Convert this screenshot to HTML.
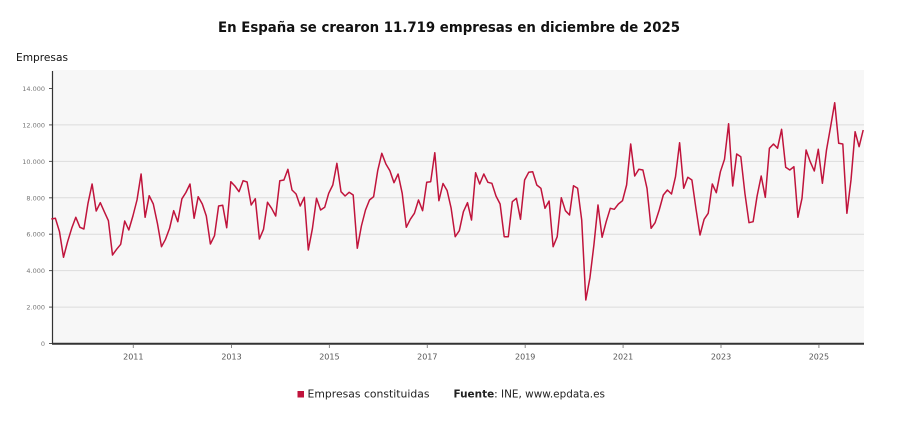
<!DOCTYPE html>
<html>
<head>
<meta charset="utf-8">
<style>
  html, body { margin: 0; padding: 0; background: #ffffff; }
  body { width: 900px; height: 423px; overflow: hidden; }
  svg { display: block; }
</style>
</head>
<body>
<svg width="900" height="423" viewBox="0 0 900 423" xmlns="http://www.w3.org/2000/svg">
  <rect x="0" y="0" width="900" height="423" fill="#ffffff"/>

  <!-- Title -->
  <text x="449" y="32" text-anchor="middle" font-family="'DejaVu Sans', 'Liberation Sans', sans-serif" font-weight="bold" font-size="14" fill="#111" textLength="462" lengthAdjust="spacingAndGlyphs">En España se crearon 11.719 empresas en diciembre de 2025</text>

  <!-- Y axis title -->
  <text x="16" y="61" font-family="'DejaVu Sans', 'Liberation Sans', sans-serif" font-size="10.5" fill="#111" textLength="52" lengthAdjust="spacingAndGlyphs">Empresas</text>

  <!-- Plot background -->
  <rect x="52" y="70" width="812" height="273.5" fill="#f7f7f7"/>

  <!-- Gridlines -->
  <g stroke="#dcdcdc" stroke-width="1">
    <line x1="52" y1="307.1" x2="864" y2="307.1"/>
    <line x1="52" y1="270.6" x2="864" y2="270.6"/>
    <line x1="52" y1="234.2" x2="864" y2="234.2"/>
    <line x1="52" y1="197.8" x2="864" y2="197.8"/>
    <line x1="52" y1="161.4" x2="864" y2="161.4"/>
    <line x1="52" y1="124.9" x2="864" y2="124.9"/>
  </g>

  <!-- Y tick marks -->
  <g stroke="#555" stroke-width="1">
    <line x1="49" y1="343.5" x2="52" y2="343.5"/>
    <line x1="49" y1="307.1" x2="52" y2="307.1"/>
    <line x1="49" y1="270.6" x2="52" y2="270.6"/>
    <line x1="49" y1="234.2" x2="52" y2="234.2"/>
    <line x1="49" y1="197.8" x2="52" y2="197.8"/>
    <line x1="49" y1="161.4" x2="52" y2="161.4"/>
    <line x1="49" y1="124.9" x2="52" y2="124.9"/>
    <line x1="49" y1="88.5" x2="52" y2="88.5"/>
  </g>

  <!-- Y labels -->
  <g font-family="'DejaVu Sans', 'Liberation Sans', sans-serif" font-size="6.5" fill="#777" text-anchor="end">
    <text x="45" y="346">0</text>
    <text x="45" y="309.6">2.000</text>
    <text x="45" y="273.1">4.000</text>
    <text x="45" y="236.7">6.000</text>
    <text x="45" y="200.3">8.000</text>
    <text x="45" y="163.9">10.000</text>
    <text x="45" y="127.4">12.000</text>
    <text x="45" y="91">14.000</text>
  </g>

  <!-- Axes -->
  <line x1="52.5" y1="71" x2="52.5" y2="344" stroke="#333" stroke-width="1.2"/>
  <line x1="52" y1="343.8" x2="864" y2="343.8" stroke="#333" stroke-width="2"/>

  <!-- X ticks -->
  <g stroke="#888" stroke-width="1">
    <line x1="133.3" y1="345" x2="133.3" y2="348"/>
    <line x1="231.5" y1="345" x2="231.5" y2="348"/>
    <line x1="329.4" y1="345" x2="329.4" y2="348"/>
    <line x1="427.3" y1="345" x2="427.3" y2="348"/>
    <line x1="525.2" y1="345" x2="525.2" y2="348"/>
    <line x1="623.1" y1="345" x2="623.1" y2="348"/>
    <line x1="721" y1="345" x2="721" y2="348"/>
    <line x1="818.9" y1="345" x2="818.9" y2="348"/>
  </g>

  <!-- X labels -->
  <g font-family="'DejaVu Sans', 'Liberation Sans', sans-serif" font-size="8" fill="#555" text-anchor="middle">
    <text x="133.3" y="359.5">2011</text>
    <text x="231.5" y="359.5">2013</text>
    <text x="329.4" y="359.5">2015</text>
    <text x="427.3" y="359.5">2017</text>
    <text x="525.2" y="359.5">2019</text>
    <text x="623.1" y="359.5">2021</text>
    <text x="721" y="359.5">2023</text>
    <text x="818.9" y="359.5">2025</text>
  </g>

  <!-- Data series -->
  <polyline fill="none" stroke="#c0143c" stroke-width="1.5" stroke-linejoin="round" points="
51.3,219.0 55.4,218.3 59.5,231.7 63.5,257.3 67.6,241.7 71.7,228.3 75.8,217.3 79.9,227.3 83.9,229.0 88.0,203.3
92.1,184.0 96.2,211.0 100.3,202.7 104.3,211.7 108.4,220.7 112.5,255.0 116.6,249.3 120.7,244.3 124.7,221.0 128.8,230.0
132.9,216.0 137.0,200.0 141.1,174.0 145.1,217.3 149.2,195.7 153.3,204.0 157.4,223.3 161.5,246.7 165.5,239.3 169.6,228.3
173.7,210.7 177.8,221.7 181.9,198.8 185.9,192.5 190.0,184.0 194.1,218.3 198.2,196.7 202.3,204.0 206.3,216.0 210.4,244.0
214.5,235.7 218.6,206.0 222.7,205.3 226.7,227.7 230.8,181.7 234.9,186.0 239.0,191.7 243.1,180.7 247.1,182.0 251.2,205.0
255.3,198.7 259.4,239.0 263.5,229.3 267.5,202.3 271.6,208.3 275.7,216.0 279.8,180.7 283.9,180.0 287.9,169.3 292.0,190.0
296.1,194.0 300.2,206.0 304.3,197.3 308.3,250.0 312.4,228.7 316.5,198.3 320.6,210.0 324.7,207.3 328.7,193.3 332.8,185.0
336.9,163.3 341.0,191.7 345.1,196.0 349.1,192.3 353.2,195.0 357.3,248.3 361.4,226.0 365.5,210.0 369.5,200.0 373.6,196.7
377.7,170.7 381.8,153.3 385.9,164.0 389.9,170.7 394.0,182.7 398.1,174.0 402.2,193.3 406.3,227.3 410.3,219.3 414.4,213.3
418.5,200.0 422.6,210.7 426.7,182.3 430.7,181.7 434.8,152.7 438.9,200.7 443.0,183.5 447.1,190.5 451.1,208.0 455.2,236.7
459.3,230.7 463.4,211.7 467.5,202.7 471.5,220.0 475.6,172.7 479.7,184.0 483.8,174.0 487.9,182.3 491.9,183.3 496.0,196.0
500.1,204.0 504.2,236.7 508.3,236.7 512.3,201.7 516.4,198.3 520.5,219.3 524.6,180.0 528.7,172.3 532.7,171.7 536.8,185.0
540.9,188.3 545.0,208.3 549.1,201.0 553.1,246.7 557.2,236.7 561.3,197.7 565.4,210.7 569.5,215.0 573.5,185.7 577.6,188.3
581.7,220.0 585.8,300.0 589.9,278.0 593.9,245.0 598.0,205.0 602.1,237.3 606.2,221.7 610.3,208.3 614.3,209.3 618.4,204.0
622.5,200.7 626.6,185.0 630.7,144.0 634.7,176.0 638.8,169.3 642.9,170.0 647.0,188.3 651.1,228.3 655.1,222.7 659.2,210.0
663.3,195.0 667.4,190.0 671.5,194.0 675.5,176.7 679.6,142.7 683.7,188.3 687.8,177.3 691.9,180.0 695.9,208.3 700.0,235.0
704.1,219.3 708.2,213.3 712.3,184.0 716.3,192.7 720.4,171.7 724.5,159.3 728.6,123.7 732.7,186.0 736.7,154.0 740.8,156.7
744.9,193.3 749.0,222.7 753.1,221.7 757.1,196.0 761.2,176.0 765.3,197.3 769.4,148.3 773.5,144.0 777.5,148.3 781.6,129.3
785.7,167.3 789.8,170.0 793.9,166.7 797.9,217.3 802.0,198.3 806.1,150.0 810.2,161.7 814.3,171.0 818.3,149.3 822.4,183.3
826.5,150.0 830.6,126.7 834.7,102.7 838.7,143.3 842.8,144.0 846.9,213.3 851.0,180.0 855.1,131.7 859.1,146.7 863.2,130.0"/>

  <!-- Legend -->
  <rect x="297.5" y="391" width="6.5" height="6.5" fill="#c0143c"/>
  <text x="307.5" y="397.3" font-family="'DejaVu Sans', 'Liberation Sans', sans-serif" font-size="11" fill="#222" textLength="122" lengthAdjust="spacingAndGlyphs">Empresas constituidas</text>
  <text x="453.5" y="397.3" font-family="'DejaVu Sans', 'Liberation Sans', sans-serif" font-size="11" fill="#222" textLength="151.5" lengthAdjust="spacingAndGlyphs"><tspan font-weight="bold">Fuente</tspan>: INE, www.epdata.es</text>
</svg>
</body>
</html>
